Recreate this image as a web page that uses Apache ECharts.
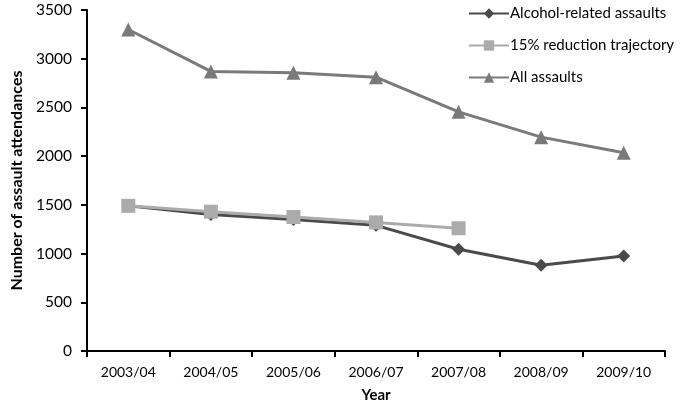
<!DOCTYPE html>
<html>
<head>
<meta charset="utf-8">
<script src="https://cdn.jsdelivr.net/npm/echarts@6/dist/echarts.min.js"></script>
<style>html,body{margin:0;padding:0;background:#fff}#c{width:683px;height:404px}</style>
</head>
<body>
<div id="c"></div>
<script>
const categories = ['2003/04','2004/05','2005/06','2006/07','2007/08','2008/09','2009/10'];
const alcoholRelated = [1490, 1400, 1350, 1290, 1045, 880, 975];
const reductionTrajectory = [1490, 1430, 1375, 1320, 1260];
const allAssaults = [3300, 2870, 2855, 2810, 2455, 2195, 2035];
const yTicks = {min: 0, max: 3500, interval: 500};

const font = 'Lato, "Open Sans", sans-serif';
const chart = echarts.init(document.getElementById('c'));
chart.setOption({
  animation: false,
  backgroundColor: '#fff',
  textStyle: {fontFamily: font},
  grid: {left: 87, right: 18, top: 10, bottom: 53, containLabel: false, outerBoundsMode: 'none'},
  legend: {
    orient: 'vertical', left: 463, top: 0, itemWidth: 40, itemHeight: 13, itemGap: 15,
    textStyle: {fontFamily: font, fontSize: 15, color: '#000', padding: [0,0,0,-4], lineHeight: 17},
    data: ['Alcohol-related assaults','15% reduction trajectory','All assaults']
  },
  xAxis: {
    type: 'category', data: categories, boundaryGap: true,
    name: 'Year', nameLocation: 'middle', nameGap: 37,
    nameTextStyle: {fontFamily: font, fontWeight: 'bold', fontSize: 15, color: '#000'},
    axisLine: {lineStyle: {color: '#000', width: 2}},
    axisTick: {show: true, length: 6, lineStyle: {color: '#000', width: 2}},
    axisLabel: {fontFamily: font, fontSize: 14, color: '#000', margin: 14}
  },
  yAxis: {
    type: 'value', min: yTicks.min, max: yTicks.max, interval: yTicks.interval,
    name: 'Number of assault attendances', nameLocation: 'middle', nameGap: 61,
    nameTextStyle: {fontFamily: font, fontWeight: 'bold', fontSize: 16, color: '#000'},
    axisLine: {show: true, lineStyle: {color: '#000', width: 2}},
    axisTick: {show: true, length: 6, lineStyle: {color: '#000', width: 2}},
    axisLabel: {fontFamily: font, fontSize: 15.5, color: '#000', margin: 15,
                formatter: v => String(v)},
    splitLine: {show: false}
  },
  series: [
    {name: 'Alcohol-related assaults', type: 'line', data: alcoholRelated,
     symbol: 'diamond', symbolSize: 13, color: '#4a4a4a',
     lineStyle: {width: 3, color: '#4a4a4a'}, itemStyle: {color: '#4a4a4a'}, z: 2},
    {name: '15% reduction trajectory', type: 'line', data: reductionTrajectory,
     symbol: 'rect', symbolSize: 14, color: '#ababab',
     lineStyle: {width: 3, color: '#ababab'}, itemStyle: {color: '#ababab'}, z: 3},
    {name: 'All assaults', type: 'line', data: allAssaults,
     symbol: 'triangle', symbolSize: 14, color: '#7a7a7a',
     lineStyle: {width: 3, color: '#7a7a7a'}, itemStyle: {color: '#7a7a7a'}, z: 2}
  ]
});
</script>
</body>
</html>
